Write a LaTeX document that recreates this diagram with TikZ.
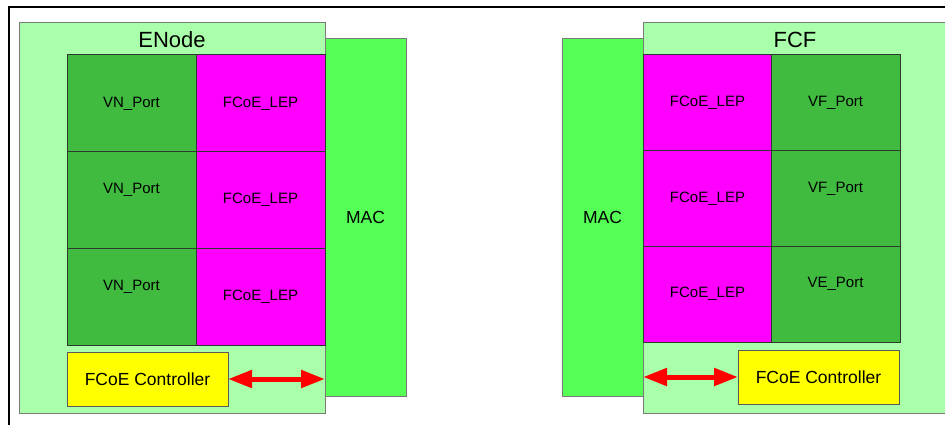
\documentclass[tikz,border=0pt]{standalone}
\usepackage{fontspec}
\setmainfont{Liberation Sans}
\usetikzlibrary{arrows.meta}
\definecolor{paleGreen}{HTML}{AAFFAA}
\definecolor{macGreen}{HTML}{55FF55}
\definecolor{portGreen}{HTML}{40BB40}
\definecolor{lepPink}{HTML}{FF00FF}
\definecolor{ctrlYellow}{HTML}{FFFF00}
\definecolor{edgeGray}{HTML}{7A7A7A}
\definecolor{cellEdge}{HTML}{2E3A2E}
\begin{document}
\begin{tikzpicture}[x=1pt, y=-1pt,
    box/.style={inner sep=0pt, outer sep=0pt, anchor=north west, line width=1pt},
    shell/.style={box, draw=edgeGray, fill=paleGreen, minimum width=306, minimum height=390},
    title/.style={font=\fontsize{22}{26}\selectfont},
    macbox/.style={box, draw=edgeGray, fill=macGreen, minimum width=81, minimum height=357,
        font=\fontsize{17.5}{21}\selectfont},
    portcell/.style={box, draw=cellEdge, fill=portGreen, minimum width=129, minimum height=#1,
        font=\fontsize{15}{18}\selectfont},
    lepcell/.style={box, draw=cellEdge, fill=lepPink, minimum width=129, minimum height=#1,
        font=\fontsize{15}{18}\selectfont},
    ctrlbox/.style={box, draw=gray!70!black, fill=ctrlYellow, minimum width=161, minimum height=54,
        font=\fontsize{17.5}{21}\selectfont},
    dblarrow/.style={red, line width=5pt, {Triangle[length=24pt, width=17pt]}-{Triangle[length=24pt, width=17pt]}}]
    \useasboundingbox (0,0) rectangle (945,425);
    % frame
    \draw[line width=1.5pt] (945,7) -- (9,7) -- (9,425);

    % ENode side
    \node[shell] (enode) at (19,23) {};
    \node[title] (enodeTitle) at ([yshift=-17pt]enode.north) {ENode};
    \node[macbox] (macL) at (325,39) {MAC};
    \node[portcell=96.7, label={center:\fontsize{15}{18}\selectfont VN\_Port}] (vn1) at (67,55) {};
    \node[portcell=96.7, label={[yshift=10pt]center:\fontsize{15}{18}\selectfont VN\_Port}] (vn2) at (67,151.7) {};
    \node[portcell=96.7, label={[yshift=10pt]center:\fontsize{15}{18}\selectfont VN\_Port}] (vn3) at (67,248.3) {};
    \foreach \i/\y in {1/55, 2/151.7, 3/248.3} {
        \node[lepcell=96.7] (lepL\i) at (196,\y) {FCoE\_LEP};
    }
    \node[ctrlbox] (ctrlL) at (67,352) {FCoE Controller};
    \draw[dblarrow] (ctrlL.east) -- (ctrlL.east -| macL.west);

    % FCF side
    \node[shell, minimum width=320] (fcf) at (643,23) {};
    \node[title] (fcfTitle) at ([xshift=152pt, yshift=-17pt]fcf.north west) {FCF};
    \node[macbox] (macR) at (562,39) {MAC};
    \foreach \i/\y in {1/55, 2/150.7, 3/246.3} {
        \node[lepcell=95.7] (lepR\i) at (643,\y) {FCoE\_LEP};
    }
    \node[portcell=95.7, label={center:\fontsize{15}{18}\selectfont VF\_Port}] (vf1) at (771,55) {};
    \node[portcell=95.7, label={[yshift=10pt]center:\fontsize{15}{18}\selectfont VF\_Port}] (vf2) at (771,150.7) {};
    \node[portcell=95.7, label={[yshift=10pt]center:\fontsize{15}{18}\selectfont VE\_Port}] (vf3) at (771,246.3) {};
    \node[ctrlbox] (ctrlR) at (738,350) {FCoE Controller};
    \draw[dblarrow] (ctrlR.west) -- (ctrlR.west -| macR.east);
\end{tikzpicture}
\end{document}
